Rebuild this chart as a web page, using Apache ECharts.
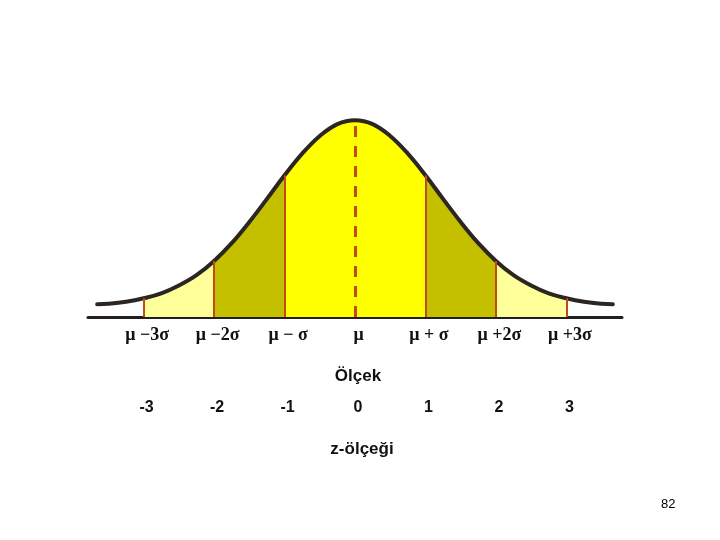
<!DOCTYPE html>
<html>
<head>
<meta charset="utf-8">
<script src="https://cdn.jsdelivr.net/npm/echarts@6/dist/echarts.min.js"></script>
<style>
  html, body { margin: 0; padding: 0; background: #fff; }
  #chart { width: 720px; height: 540px; }
</style>
</head>
<body>
<div id="chart"></div>
<script>
  // z positions along the curve and the curve height
  const zValues = [-3.66, -3.5, -3.25, -3, -2.75, -2.5, -2.25, -2, -1.75, -1.5, -1.25, -1, -0.75, -0.5, -0.25,
    0, 0.25, 0.5, 0.75, 1, 1.25, 1.5, 1.75, 2, 2.25, 2.5, 2.75, 3, 3.25, 3.5, 3.66]
  const curveHeights = [0.026, 0.027, 0.031, 0.038, 0.048, 0.064, 0.085, 0.114, 0.150, 0.193, 0.240, 0.288, 0.332, 0.368, 0.392,
    0.400, 0.392, 0.368, 0.332, 0.288, 0.240, 0.193, 0.150, 0.114, 0.085, 0.064, 0.048, 0.038, 0.031, 0.027, 0.026]
  // shaded bands between sigma lines
  const bandFrom = [-3, -2, -1, 1, 2]
  const bandTo = [-2, -1, 1, 2, 3]
  const sigmaLines = [-3, -2, -1, 1, 2, 3]
  const meanLine = 0
  const tickValues = [-3, -2, -1, 0, 1, 2, 3]
  const sigmaLabels = ['μ −3σ', 'μ −2σ', 'μ − σ', 'μ', 'μ + σ', 'μ +2σ', 'μ +3σ']
  const zLabels = ['-3', '-2', '-1', '0', '1', '2', '3']

  const bandColors = ['#ffff99', '#c4c000', '#ffff00', '#c4c000', '#ffff99']
  const redLine = '#c24a1a'

  let myChart = echarts.init(document.getElementById('chart'))
  let points = zValues.map((z, i) => [z, curveHeights[i]])
  let heightAt = z => curveHeights[zValues.indexOf(z)]

  let bandSeries = bandFrom.map((from, i) => ({
    type: 'line',
    smooth: 0.4,
    symbol: 'none',
    silent: true,
    z: 1,
    lineStyle: { width: 0 },
    areaStyle: { color: bandColors[i], opacity: 1, origin: 'start' },
    data: points.filter(p => p[0] >= from && p[0] <= bandTo[i])
  }))

  let lineData = sigmaLines.map(z => [{ coord: [z, 0] }, { coord: [z, heightAt(z)] }])
  lineData.push([
    { coord: [meanLine, 0], lineStyle: { type: [11, 9], width: 3 } },
    { coord: [meanLine, heightAt(meanLine)] }
  ])

  let option = {
    animation: false,
    grid: { left: 88, right: 98, top: 71, bottom: 223 },
    xAxis: [{
      type: 'value',
      min: -3.79,
      max: 3.79,
      position: 'bottom',
      splitLine: { show: false },
      axisTick: { show: false },
      axisLine: { show: true, lineStyle: { color: '#231f20', width: 3 } },
      axisLabel: {
        customValues: tickValues,
        formatter: (v) => sigmaLabels[tickValues.indexOf(v)],
        margin: 9,
        color: '#111',
        fontFamily: 'Liberation Serif',
        fontWeight: 'bold',
        fontSize: 18,
        padding: [0, 0, 0, 7]
      },
      name: 'Ölçek',
      nameLocation: 'middle',
      nameGap: 51,
      nameTextStyle: { color: '#111', fontFamily: 'Liberation Sans', fontWeight: 'bold', fontSize: 17, padding: [0, 0, 0, 6] }
    }, {
      type: 'value',
      min: -3.79,
      max: 3.79,
      position: 'bottom',
      offset: 75,
      splitLine: { show: false },
      axisTick: { show: false },
      axisLine: { show: false },
      axisLabel: {
        customValues: tickValues,
        formatter: (v) => zLabels[tickValues.indexOf(v)],
        margin: 8,
        color: '#111',
        fontFamily: 'Liberation Sans',
        fontWeight: 'bold',
        fontSize: 16,
        padding: [0, 0, 0, 6]
      },
      name: 'z-ölçeği',
      nameLocation: 'middle',
      nameGap: 49,
      nameTextStyle: { color: '#111', fontFamily: 'Liberation Sans', fontWeight: 'bold', fontSize: 17, padding: [0, 0, 0, 14] }
    }],
    yAxis: { type: 'value', min: 0, max: 0.5, show: false },
    series: [
      ...bandSeries,
      {
        type: 'line',
        symbol: 'none',
        silent: true,
        z: 2,
        lineStyle: { width: 0 },
        data: points,
        markLine: {
          silent: true,
          symbol: ['none', 'none'],
          label: { show: false },
          lineStyle: { color: redLine, width: 2, type: 'solid' },
          data: lineData
        }
      },
      {
        type: 'line',
        smooth: 0.4,
        symbol: 'none',
        silent: true,
        z: 3,
        lineStyle: { color: '#2b2622', width: 4, cap: 'round' },
        data: points
      }
    ],
    graphic: [{
      type: 'text',
      left: 661,
      top: 498,
      style: { text: '82', fill: '#000', font: '13px "Liberation Sans"' }
    }]
  }
  myChart.setOption(option)
</script>
</body>
</html>
